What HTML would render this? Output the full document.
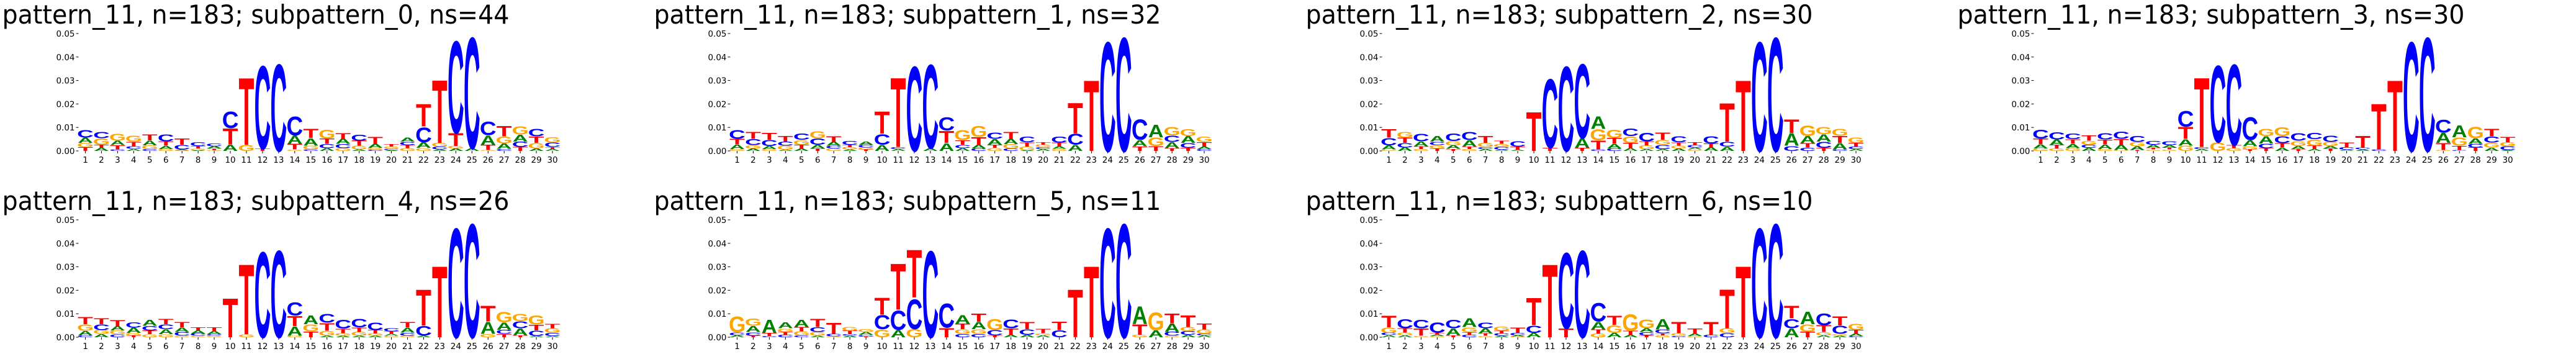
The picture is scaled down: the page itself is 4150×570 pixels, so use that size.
<!DOCTYPE html>
<html><head><meta charset="utf-8"><style>html,body{margin:0;padding:0;background:#fff;overflow:hidden;}svg{display:block;}</style></head>
<body>
<svg id="chart" xmlns="http://www.w3.org/2000/svg" width="4150" height="570" viewBox="0 0 4150 570"></svg>
<script>
const titles = ["pattern_11, n=183; subpattern_0, ns=44","pattern_11, n=183; subpattern_1, ns=32","pattern_11, n=183; subpattern_2, ns=30","pattern_11, n=183; subpattern_3, ns=30","pattern_11, n=183; subpattern_4, ns=26","pattern_11, n=183; subpattern_5, ns=11","pattern_11, n=183; subpattern_6, ns=10"];
const positions = [1,2,3,4,5,6,7,8,9,10,11,12,13,14,15,16,17,18,19,20,21,22,23,24,25,26,27,28,29,30];
const yTicks = [0,0.01,0.02,0.03,0.04,0.05];
const yTickLabels = ["0.00","0.01","0.02","0.03","0.04","0.05"];
// values in units of 0.001
const p0A=[2.2,1.3,1.9,0.9,2.1,1.4,0.4,0.3,1.0,2.8,0,0,0,3.5,3.2,1.2,2.2,0.6,1.7,0.4,1.8,2.4,0.6,1.0,1.2,4.1,2.3,3.0,1.0,0.8];
const p0C=[3.5,2.9,0.7,1.1,0.8,3.1,1.9,1.6,1.2,7.3,0,37.2,39,8.4,0.7,1.8,1.8,2.6,0.5,0.6,1.5,6.7,1.2,41.3,49.8,6.2,0.9,2.3,3.4,1.9];
const p0G=[1.9,2.8,3.1,2.6,1.6,0.8,0.3,0.7,0.3,0,2.6,0,0,0.6,1.6,4.0,1.2,1.6,0.8,0.9,1.2,1.3,1.6,1.1,0,0.4,3.0,3.5,2.4,2.3];
const p0T=[1.6,1.3,1.8,2.0,2.6,1.9,2.8,1.1,0.7,7.0,29.4,1.0,0,2.5,4.0,2.3,2.5,2.2,3.0,1.1,1.3,9.9,27.6,5.6,0,2.3,4.5,1.7,2.8,0.9];
const p1A=[2.0,1.0,1.3,0.5,1.1,1.6,1.7,0.6,1.4,2.7,0.8,0,1.2,3.4,1.2,1.6,2.5,2.2,0.3,0.8,1.1,2.7,0,0,0,2.7,5.5,2.6,3.0,1.0];
const p1C=[4.0,2.7,2.6,1.8,2.9,2.8,1.2,1.6,1.2,4.7,0.9,38,37.6,6.0,1.4,1.0,2.8,1.0,2.5,0.9,2.7,4.9,0,49,51,9.2,0,2.8,2.1,0.8];
const p1G=[0.8,1.5,0.8,1.7,2.0,3.0,1.0,1.0,0.8,0,0,0,0,0,4.5,4.8,1.3,1.9,1.6,1.0,0.9,0,0,0,0,0,3.7,3.8,3.1,2.3];
const p1T=[2.4,2.9,3.0,2.4,1.6,1.0,2.4,1.1,0.7,9.6,30.4,0,0,5.3,2.0,3.4,1.4,3.0,1.8,1.0,1.6,13.3,31,0,0,2.0,2.1,1.2,1.3,2.0];
const p2A=[1.8,1.5,2.1,2.5,1.5,2.8,0.8,0.5,0.5,0,0,0,4.2,5.5,2.0,1.2,0.8,0.8,1.0,0.8,1.5,1.8,0,0,0,5.5,3.1,3.1,2.8,0.8];
const p2C=[3.3,2.0,3.4,1.5,3.4,3.6,0.9,1.2,2.4,0,30.9,38,33.3,0.7,1.0,3.5,3.7,1.8,2.7,1.0,3.3,2.2,0,49,51,2.2,1.4,2.7,0.7,1.0];
const p2G=[0.6,2.5,0.8,1.4,1.8,0.8,1.8,1.3,0,0,0,0,0,4.9,3.5,2.8,1.6,2.2,1.3,0.6,0,0,0,0,0,0,4.6,3.3,3.1,2.4];
const p2T=[3.7,2.2,1.2,1.1,0.9,1.0,2.9,1.4,1.3,17,1.4,0,1.3,3.8,2.6,2.3,1.7,3.1,1.4,1.3,1.7,16.8,31,0,0,5.9,1.9,1.3,3.0,1.6];
const p3A=[1.8,2.4,1.8,1.3,2.0,2.3,1.6,1.4,1.1,2.8,0.8,0,0,2.6,3.2,1.4,1.3,0.8,1.1,0.5,0.6,0,0,0,0,4.4,5.2,2.3,1.4,0.4];
const p3C=[4.0,3.3,2.5,1.4,2.8,3.2,2.6,1.6,1.6,7.1,0.9,34.4,36.3,10.3,2.0,3.0,3.5,2.9,2.9,1.1,0.9,0.7,0,49,51,5.8,0.4,1.6,2.6,1.6];
const p3G=[1.1,1.0,1.2,1.6,0.8,0.4,1.8,0.6,0.6,2.3,0,3.8,1.2,1.3,3.3,3.9,2.2,2.7,1.7,0,0,0,0,0,0,0.4,3.6,5.0,2.2,1.7];
const p3T=[2.4,1.5,2.0,2.3,2.1,2.4,0.4,0.7,0.8,5.2,30.4,0,1.3,0.7,1.2,1.9,0.8,1.5,1.0,2.1,5.1,20.1,31,0,0,3.0,1.8,1.5,3.3,2.2];
const p4A=[2.0,1.4,1.9,2.3,2.7,2.1,2.0,1.3,1.4,0,0,0,0,4.1,3.9,0.6,0.6,0.6,0.6,0.9,2.1,0.6,0,0,0,5.2,3.2,3.0,0.5,0.5];
const p4C=[0.8,2.5,1.3,2.4,2.0,2.2,1.6,1.0,0.7,0,0,38.4,39,5.9,0,4.0,3.9,3.7,3.5,1.4,1.3,4.4,0,49,51,0,1.8,3.1,2.4,1.5];
const p4G=[2.8,1.7,1.6,1.0,1.3,1.3,0.6,0.6,0.6,0,1.3,0,0,0.7,3.1,2.2,1.1,1.7,1.0,0.6,0.7,0,0,0,0,1.5,4.6,3.3,4.1,1.9];
const p4T=[3.2,2.6,2.7,0.8,1.6,2.3,2.3,1.4,1.5,17,30.7,0,0,4.4,2.5,3.4,2.0,1.9,1.5,1.0,2.5,15.8,31.2,0,0,6.8,1.4,0.8,2.5,2.0];
const p5A=[0.8,2.7,5.7,2.7,3.1,0.6,0,0.6,1.2,0,3.2,0,0,0,3.6,3.2,0,1.1,1.0,0.8,0,0,0,0,0,7.8,3.0,3.6,1.1,0.8];
const p5C=[1.3,1.5,0.5,1.1,0.8,2.1,1.1,0.7,0.7,6.3,8.6,13.4,38.8,10.9,1.5,1.5,2.3,4.0,2.4,0,3.0,0,0,49,51,0,0,1.7,1.6,0.8];
const p5G=[7.0,3.2,0,1.5,1.7,1.6,0.4,1.6,1.3,3.4,0,3.5,0,0,1.9,1.9,4.8,0,0,0.9,0,0,0,0,0,1.1,8.0,0.6,1.7,1.7];
const p5T=[0,0.7,1.3,1.2,1.9,3.5,4.8,1.5,0.3,7.4,20.2,21,0,4.1,2.4,3.5,0.8,2.8,3.2,2.0,3.6,20.9,31.2,0,0,4.6,0,4.2,5.0,2.6];
const p6A=[0.9,0.8,0,0.6,3.0,3.8,2.2,0.6,0.5,1.9,0,0,0,3.4,1.9,1.0,1.6,4.6,0,1.0,0,0,0,0,0,3.9,5.4,0.8,0.7,1.0];
const p6C=[1.0,4.2,3.7,4.7,3.7,1.0,2.5,1.0,1.0,3.2,0,34,39,8.2,0,0,1.5,1.6,0.6,0,1.0,1.8,0,49,51,4.2,0,5.3,3.6,0.5];
const p6G=[2.3,1.2,0.6,0.5,0,2.2,0.6,1.7,0.3,0,0,0,0,1.6,3.4,7.3,3.9,0.8,1.1,0.5,0,2.1,0,0,0,0,3.2,1.5,0.7,2.6];
const p6T=[5.0,1.9,3.2,0.8,0.8,1.1,1.0,1.2,2.3,12,32,3.8,0,1.7,4.1,1.8,0.8,0.9,4.9,2.2,5.6,17,31.2,0,0,5.4,2.4,2.9,4.1,1.7];

const panels=[[p0A,p0C,p0G,p0T],[p1A,p1C,p1G,p1T],[p2A,p2C,p2G,p2T],[p3A,p3C,p3G,p3T],[p4A,p4C,p4G,p4T],[p5A,p5C,p5G,p5T],[p6A,p6C,p6G,p6T]];
const NS="http://www.w3.org/2000/svg";
const svg=document.getElementById('chart');
const letters=["A","C","G","T"];
const colors={A:"#008000",C:"#0000ff",G:"#ffa500",T:"#ff0000"};
const inkW={A:71,C:66,G:70,T:60};
const capH={A:71.6,C:73.5,G:73.5,T:71.6};
const FONT='DejaVu Sans, Liberation Sans, sans-serif';
function mk(tag,attrs,parent){const e=document.createElementNS(NS,tag);for(const k in attrs)e.setAttribute(k,attrs[k]);parent.appendChild(e);return e;}

panels.forEach((pd,pi)=>{
  const col=pi%4,row=Math.floor(pi/4);
  const x1=137.5+1050*col;
  const y0=243+300*row;
  const ppu=3.78; // px per 0.001
  const xS=p=>x1+25.95*(p-1);
  const yS=v=>y0-v*1000*ppu;
  const g=mk('g',{},svg);
  
  
  const t=mk('text',{x:x1-134,y:y0-205,'font-family':FONT,'font-size':42,textLength:817,lengthAdjust:'spacingAndGlyphs',fill:'#000'},g);
  t.textContent=titles[pi];
  
  
  yTicks.forEach((v,i)=>{
    const y=yS(v);
    const ln=mk('line',{x1:x1-15,x2:x1-11,y1:y,y2:y,stroke:'#000','stroke-width':1}, g);
    
    
    const tx=mk('text',{x:x1-17,y:y+5,'text-anchor':'end','font-family':FONT,'font-size':13.5,fill:'#000'},g);
    tx.textContent=yTickLabels[i];
    
    
  });
  positions.forEach((p,i)=>{
    const cx=xS(p);
    const ln=mk('line',{x1:cx,x2:cx,y1:y0,y2:y0+4,stroke:'#000','stroke-width':1},g);
    
    
    const tx=mk('text',{x:cx,y:y0+19,'text-anchor':'middle','font-family':FONT,'font-size':13.5,fill:'#000'},g);
    tx.textContent=String(p);
    
    
    const stack=letters.map((L,k)=>({L:L,v:pd[k][i]/1000})).filter(o=>o.v>0).sort((a,b)=>a.v-b.v);
    let cum=0;
    stack.forEach(o=>{
      const yb=yS(cum), yt=yS(cum+o.v);
      const h=yb-yt;
      const sx=24.4/inkW[o.L], sy=h/capH[o.L];
      const lt=mk('text',{x:0,y:0,'text-anchor':'middle','font-family':'Liberation Sans, sans-serif','font-weight':'bold','font-size':100,fill:colors[o.L],transform:`translate(${cx},${yb}) scale(${sx},${sy})`},g);
      lt.textContent=o.L;
      
      
      cum+=o.v;
    });
  });
});
</script>
</body></html>
